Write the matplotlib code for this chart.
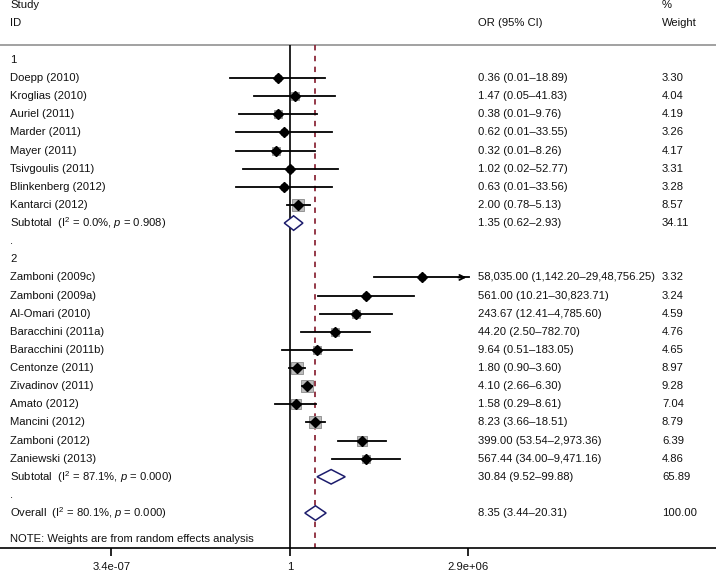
import numpy as np
import matplotlib
matplotlib.use("Agg")
import matplotlib.pyplot as plt
import matplotlib.transforms as mtransforms

plt.rcParams['font.family'] = ['Liberation Sans', 'DejaVu Sans']
plt.rcParams['mathtext.fontset'] = 'custom'
plt.rcParams['mathtext.rm'] = 'Liberation Sans'
plt.rcParams['mathtext.it'] = 'Liberation Sans:italic'

# ---- data ----
studies1 = ['Doepp (2010)', 'Kroglias (2010)', 'Auriel (2011)', 'Marder (2011)',
            'Mayer (2011)', 'Tsivgoulis (2011)', 'Blinkenberg (2012)', 'Kantarci (2012)']
or1 = [0.36, 1.47, 0.38, 0.62, 0.32, 1.02, 0.63, 2.00]
lo1 = [0.0067, 0.05, 0.0146, 0.011, 0.011, 0.019, 0.011, 0.78]
hi1 = [18.89, 41.83, 9.76, 33.55, 8.26, 52.77, 33.56, 5.13]
w1 = [3.30, 4.04, 4.19, 3.26, 4.17, 3.31, 3.28, 8.57]
ci_text1 = ['0.36 (0.01–18.89)', '1.47 (0.05–41.83)', '0.38 (0.01–9.76)', '0.62 (0.01–33.55)',
            '0.32 (0.01–8.26)', '1.02 (0.02–52.77)', '0.63 (0.01–33.56)', '2.00 (0.78–5.13)']

studies2 = ['Zamboni (2009c)', 'Zamboni (2009a)', 'Al-Omari (2010)', 'Baracchini (2011a)',
            'Baracchini (2011b)', 'Centonze (2011)', 'Zivadinov (2011)', 'Amato (2012)',
            'Mancini (2012)', 'Zamboni (2012)', 'Zaniewski (2013)']
or2 = [58035.00, 561.00, 243.67, 44.20, 9.64, 1.80, 4.10, 1.58, 8.23, 399.00, 567.44]
lo2 = [1142.20, 10.21, 12.41, 2.50, 0.51, 0.90, 2.66, 0.29, 3.66, 53.54, 34.00]
hi2 = [2948756.25, 30823.71, 4785.60, 782.70, 183.05, 3.60, 6.30, 8.61, 18.51, 2973.36, 9471.16]
w2 = [3.32, 3.24, 4.59, 4.76, 4.65, 8.97, 9.28, 7.04, 8.79, 6.39, 4.86]
ci_text2 = ['58,035.00 (1,142.20–29,48,756.25)', '561.00 (10.21–30,823.71)',
            '243.67 (12.41–4,785.60)', '44.20 (2.50–782.70)', '9.64 (0.51–183.05)',
            '1.80 (0.90–3.60)', '4.10 (2.66–6.30)', '1.58 (0.29–8.61)',
            '8.23 (3.66–18.51)', '399.00 (53.54–2,973.36)', '567.44 (34.00–9,471.16)']

sub_labels = [r'Subtotal  (I$^2$ = 0.0%, $p$ = 0.908)',
              r'Subtotal  (I$^2$ = 87.1%, $p$ = 0.000)',
              r'Overall  (I$^2$ = 80.1%, $p$ = 0.000)']
sub_or = [1.35, 30.84, 8.35]
sub_lo = [0.62, 9.52, 3.44]
sub_hi = [2.93, 99.88, 20.31]
sub_w = ['34.11', '65.89', '100.00']
sub_text = ['1.35 (0.62–2.93)', '30.84 (9.52–99.88)', '8.35 (3.44–20.31)']

xticks = [3.4e-07, 1, 2.9e+06]
xtick_labels = ['3.4e-07', '1', '2.9e+06']
x_clip = 2.94e6

# ---- layout rows ----
rows1 = np.arange(1, 9)
rows2 = np.arange(12, 23)
sub_rows = [9, 23, 25]

fig = plt.figure(figsize=(7.16, 5.72), dpi=100)
ax = fig.add_axes([0, 24 / 572, 1, 548 / 572])
ax.set_xscale('log')
ax.set_xlim(np.exp(-24.19), np.exp(35.53))
ax.set_ylim(26.93, -3.31)

txt = mtransforms.blended_transform_factory(fig.transFigure, ax.transData)
fs = 8.1
tc = '#111111'
x_lab, x_ci, x_w = 10 / 716, 478 / 716, 662 / 716

# header
ax.text(x_lab, -3.04, 'Study', transform=txt, fontsize=fs, va='center', color=tc)
ax.text(x_lab, -2.04, 'ID', transform=txt, fontsize=fs, va='center', color=tc)
ax.text(x_ci, -2.04, 'OR (95% CI)', transform=txt, fontsize=fs, va='center', color=tc)
ax.text(x_w, -3.04, '%', transform=txt, fontsize=fs, va='center', color=tc)
ax.text(x_w, -2.04, 'Weight', transform=txt, fontsize=fs, va='center', color=tc)
ax.axhline(-0.83, color='#9a9a9a', lw=1.3)

# reference lines
ax.vlines(1, -0.83, 26.93, color='black', lw=1.2, zorder=2)
ax.vlines(sub_or[2], -0.83, 26.93, color='#8c2a3a', lw=1.3, linestyles=(0, (3, 3)), zorder=2)

# group labels
ax.text(x_lab, 0, '1', transform=txt, fontsize=fs, va='center', color=tc)
ax.text(x_lab, 10, '.', transform=txt, fontsize=fs, va='center', color=tc)
ax.text(x_lab, 11, '2', transform=txt, fontsize=fs, va='center', color=tc)
ax.text(x_lab, 24, '.', transform=txt, fontsize=fs, va='center', color=tc)


def draw_studies(rows, names, est, lo, hi, w, ci_text):
    for r, n, e, l, h, wt, ct in zip(rows, names, est, lo, hi, w, ci_text):
        ms = 8.3 * np.sqrt(wt / 9.28)
        ax.plot(e, r, marker='s', ms=ms, mfc='#bcbcbc', mec='#8a8a8a', mew=0.6,
                ls='none', zorder=3)
        if h > x_clip:
            ax.plot([l, x_clip], [r, r], color='black', lw=1.3, zorder=4)
            ax.annotate('', xy=(x_clip * 1.05, r), xytext=(x_clip / 3, r),
                        arrowprops=dict(arrowstyle='->', lw=1.3, color='black',
                                        mutation_scale=9), zorder=4)
        else:
            ax.plot([l, h], [r, r], color='black', lw=1.3, zorder=4)
        ax.plot(e, r, marker='D', ms=4.6, color='black', zorder=5)
        ax.text(x_lab, r, n, transform=txt, fontsize=fs, va='center', color=tc)
        ax.text(x_ci, r, ct, transform=txt, fontsize=fs, va='center', color=tc)
        ax.text(x_w, r, f'{wt:.2f}', transform=txt, fontsize=fs, va='center', color=tc)


draw_studies(rows1, studies1, or1, lo1, hi1, w1, ci_text1)
draw_studies(rows2, studies2, or2, lo2, hi2, w2, ci_text2)

# pooled diamonds
for r, lab, e, l, h, wt, ct in zip(sub_rows, sub_labels, sub_or, sub_lo, sub_hi, sub_w, sub_text):
    ax.fill([l, e, h, e], [r, r - 0.4, r, r + 0.4], facecolor='white',
            edgecolor='#1c1c6c', lw=1.1, zorder=6)
    ax.text(x_lab, r, lab, transform=txt, fontsize=fs, va='center', color=tc)
    ax.text(x_ci, r, ct, transform=txt, fontsize=fs, va='center', color=tc)
    ax.text(x_w, r, wt, transform=txt, fontsize=fs, va='center', color=tc)

ax.text(x_lab, 26.45, 'NOTE: Weights are from random effects analysis', transform=txt,
        fontsize=fs, va='center', color=tc)

# axis styling
for s in ['top', 'left', 'right']:
    ax.spines[s].set_visible(False)
ax.spines['bottom'].set_linewidth(1.2)
ax.set_xticks(xticks)
ax.set_xticklabels(xtick_labels, fontsize=fs, color=tc)
ax.xaxis.set_minor_locator(matplotlib.ticker.NullLocator())
ax.tick_params(axis='x', length=6, width=1.2, pad=4)
ax.set_yticks([])

fig.savefig('out.png', dpi=100)
